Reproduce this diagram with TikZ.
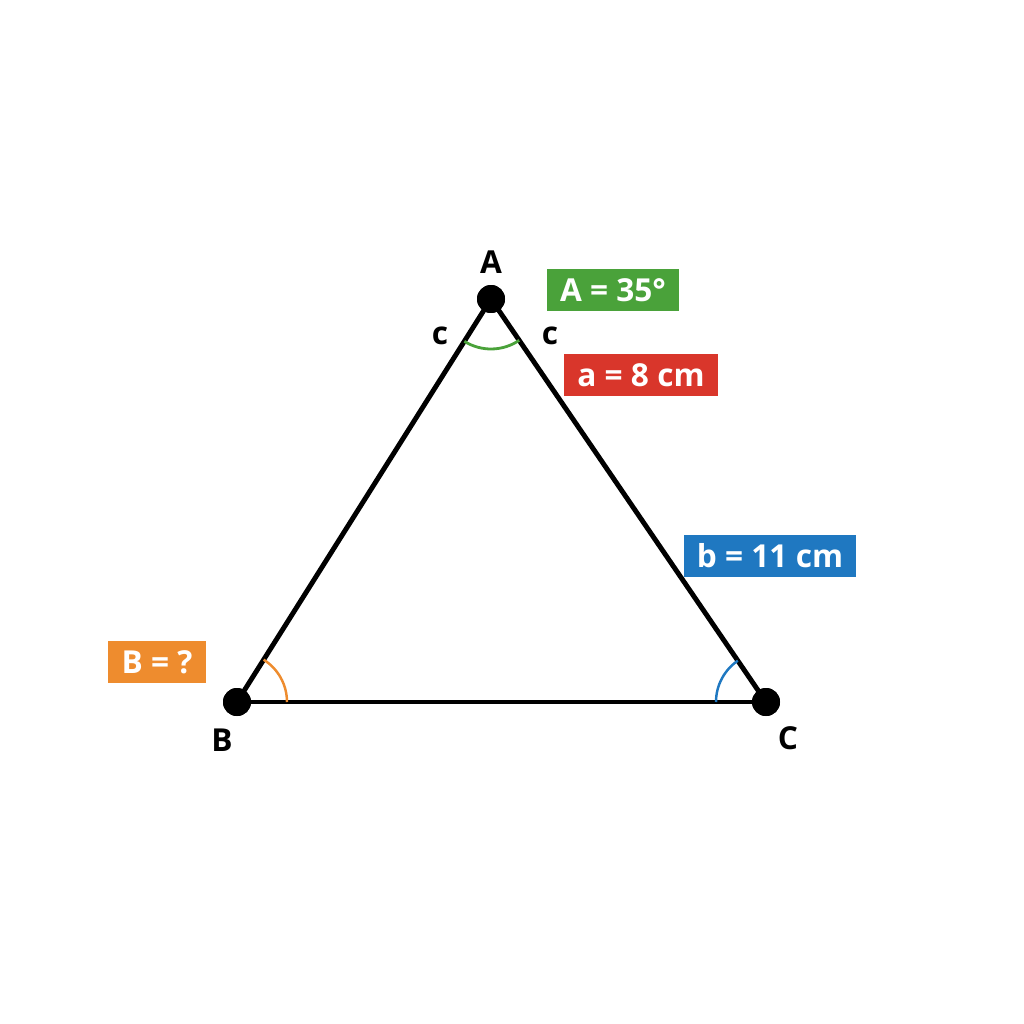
\documentclass[tikz,border=0pt]{standalone}
\usepackage{fontspec}
\setmainfont{Open Sans}
\usepackage{tikz}

\definecolor{angA}{HTML}{4AA23A}
\definecolor{sideA}{HTML}{D9362B}
\definecolor{sideB}{HTML}{1F78C1}
\definecolor{angB}{HTML}{EE8C2E}

\tikzset{
  vertex/.style={shape=circle,fill=black,inner sep=0pt,minimum size=0.56cm},
  vname/.style={font=\fontsize{18}{21}\selectfont\bfseries},
  tag/.style={fill=#1,text=white,font=\fontsize{18}{21}\selectfont\bfseries,minimum height=0.84cm,inner xsep=7.5pt}
}

\begin{document}
\begin{tikzpicture}[x=0.02cm,y=-0.02cm]
        \useasboundingbox (0,0) rectangle (1024,1024);
        \node[vertex] (A) at (491,299) {};
        \node[vertex] (B) at (237,702) {};
        \node[vertex] (C) at (766,702) {};
        \node[vname] (nA) at (491,262) {A};
        \node[vname] (nB) at (222,740) {B};
        \node[vname] (nC) at (788,738) {C};
        \node[vname] (cl) at (440,336) {c};
        \node[vname] (cr) at (550,336) {c};
        \path [line width=2.8pt] (A.center) edge (B.center);
        \path [line width=2.8pt] (B.center) edge (C.center);
        \path [line width=2.8pt] (C.center) edge (A.center);
        \node[vertex] at (A) {};
        \node[vertex] at (B) {};
        \node[vertex] at (C) {};
        \draw[angA,line width=1.6pt] ([shift={(55.7:50)}]A.center) arc[start angle=55.7,end angle=122.2,radius=50];
        \draw[angB,line width=1.4pt] ([shift={(0:50)}]B.center) arc[start angle=0,end angle=-57.8,radius=50];
        \draw[sideB,line width=1.4pt] ([shift={(180:50)}]C.center) arc[start angle=180,end angle=235.7,radius=50];
        \node[tag=angA] (tA) at (613,290) {A = 35°};
        \node[tag=sideA] (ta) at (641,375) {a = 8 cm};
        \node[tag=sideB] (tb) at (770,556) {b = 11 cm};
        \node[tag=angB] (tB) at (157,662) {B = ?};
\end{tikzpicture}
\end{document}
